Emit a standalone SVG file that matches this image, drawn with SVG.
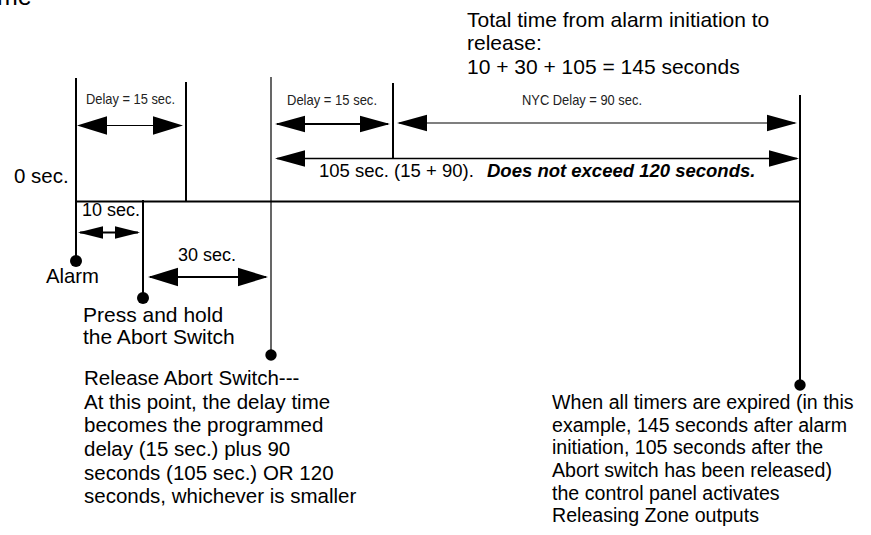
<svg xmlns="http://www.w3.org/2000/svg" width="871" height="535" viewBox="0 0 871 535">
<style>
.t{font-family:"Liberation Sans",Arial,Helvetica,sans-serif;fill:#000}
.n{font-family:"Liberation Sans Narrow","Liberation Sans",Arial,sans-serif;fill:#222;font-size:14.5px}
.ln{stroke:#000;stroke-width:2;fill:none}
.thin{stroke:#000;stroke-width:1.2;fill:none}
.dot{fill:#000}
.arA{stroke:#000;fill:none;marker-start:url(#hA);marker-end:url(#hA)}
.arB{stroke:#000;fill:none;marker-start:url(#hB);marker-end:url(#hB)}
.arS{stroke:#000;fill:none;marker-start:url(#hS);marker-end:url(#hS)}
</style>
<defs>
<marker id="hA" markerUnits="userSpaceOnUse" markerWidth="31" markerHeight="19" viewBox="0 0 31 19" refX="28" refY="9.25" orient="auto-start-reverse" overflow="visible">
<path d="M0,0 L30,9.25 L0,18.5 Z" fill="#000"/>
</marker>
<marker id="hB" markerUnits="userSpaceOnUse" markerWidth="31" markerHeight="17" viewBox="0 0 31 17" refX="28" refY="8.3" orient="auto-start-reverse" overflow="visible">
<path d="M0,0 L30,8.3 L0,16.6 Z" fill="#000"/>
</marker>
<marker id="hS" markerUnits="userSpaceOnUse" markerWidth="26" markerHeight="13" viewBox="0 0 26 13" refX="23" refY="6.3" orient="auto-start-reverse" overflow="visible">
<path d="M0,0 L25,6.3 L0,12.6 Z" fill="#000"/>
</marker>
</defs>

<text class="t" x="-3" y="4.5" font-size="25">me</text>

<g id="summary">
<text class="t" font-size="21"><tspan x="467" y="27">Total time from alarm initiation to</tspan><tspan x="467" y="50">release:</tspan><tspan x="467" y="74">10 + 30 + 105 = 145 seconds</tspan></text>
</g>

<g id="timeline">
<line class="ln" x1="75" y1="201.5" x2="801" y2="201.5"/>
<text class="t" x="14" y="183" font-size="20.5">0 sec.</text>
</g>

<g id="mark-delay1-end">
<line class="ln" x1="186" y1="82" x2="186" y2="201"/>
</g>

<g id="mark-delay2-end">
<line class="ln" x1="393" y1="83" x2="393" y2="159"/>
</g>

<g id="event-alarm">
<line class="ln" x1="76" y1="78" x2="76" y2="261"/>
<circle class="dot" cx="76" cy="261" r="6"/>
<text class="t" x="46" y="283" font-size="20.3">Alarm</text>
</g>

<g id="event-press">
<line class="ln" x1="143" y1="200" x2="143" y2="298"/>
<circle class="dot" cx="143" cy="298" r="6"/>
<text class="t" font-size="21"><tspan x="83" y="322">Press and hold</tspan><tspan x="83" y="344">the Abort Switch</tspan></text>
</g>

<g id="event-release">
<line class="thin" x1="271" y1="77" x2="271" y2="355"/>
<circle class="dot" cx="271" cy="355" r="5.7"/>
<text class="t" font-size="20.5"><tspan x="84" y="385">Release Abort Switch---</tspan><tspan x="84" y="409">At this point, the delay time</tspan><tspan x="84" y="432">becomes the programmed</tspan><tspan x="84" y="456">delay (15 sec.) plus 90</tspan><tspan x="84" y="480">seconds (105 sec.) OR 120</tspan><tspan x="84" y="503">seconds, whichever is smaller</tspan></text>
</g>

<g id="event-expire">
<line class="ln" x1="800" y1="95" x2="800" y2="385"/>
<circle class="dot" cx="800" cy="385" r="5.7"/>
<text class="t" font-size="19.6"><tspan x="552" y="409">When all timers are expired (in this</tspan><tspan x="552" y="432">example, 145 seconds after alarm</tspan><tspan x="552" y="454">initiation, 105 seconds after the</tspan><tspan x="552" y="477">Abort switch has been released)</tspan><tspan x="552" y="500">the control panel activates</tspan><tspan x="552" y="522">Releasing Zone outputs</tspan></text>
</g>

<g id="connectors">
<line class="arA" stroke-width="1.2" x1="79" y1="125.5" x2="181" y2="125.5"/>
<line class="arB" stroke-width="2" x1="277" y1="124" x2="388" y2="124"/>
<line class="arB" stroke-width="1.2" x1="399" y1="123" x2="795" y2="123"/>
<line class="arB" stroke-width="1.5" x1="277" y1="158.5" x2="797" y2="158.5"/>
<line class="arS" stroke-width="2" x1="80" y1="232.5" x2="138" y2="232.5"/>
<line class="arA" stroke-width="2" x1="150" y1="277" x2="266" y2="277"/>
</g>

<g id="labels">
<text class="n" x="86" y="104" textLength="89" lengthAdjust="spacingAndGlyphs">Delay = 15 sec.</text>
<text class="n" x="287" y="105" textLength="90" lengthAdjust="spacingAndGlyphs">Delay = 15 sec.</text>
<text class="n" x="522" y="105" textLength="120" lengthAdjust="spacingAndGlyphs">NYC Delay = 90 sec.</text>
<text class="t" x="319" y="177" font-size="18.5">105 sec. (15 + 90).</text>
<text class="t" x="487" y="177" font-size="18.5" font-weight="bold" font-style="italic">Does not exceed 120 seconds.</text>
<text class="t" x="82" y="216" font-size="18">10 sec.</text>
<text class="t" x="178" y="261" font-size="18">30 sec.</text>
</g>
</svg>
